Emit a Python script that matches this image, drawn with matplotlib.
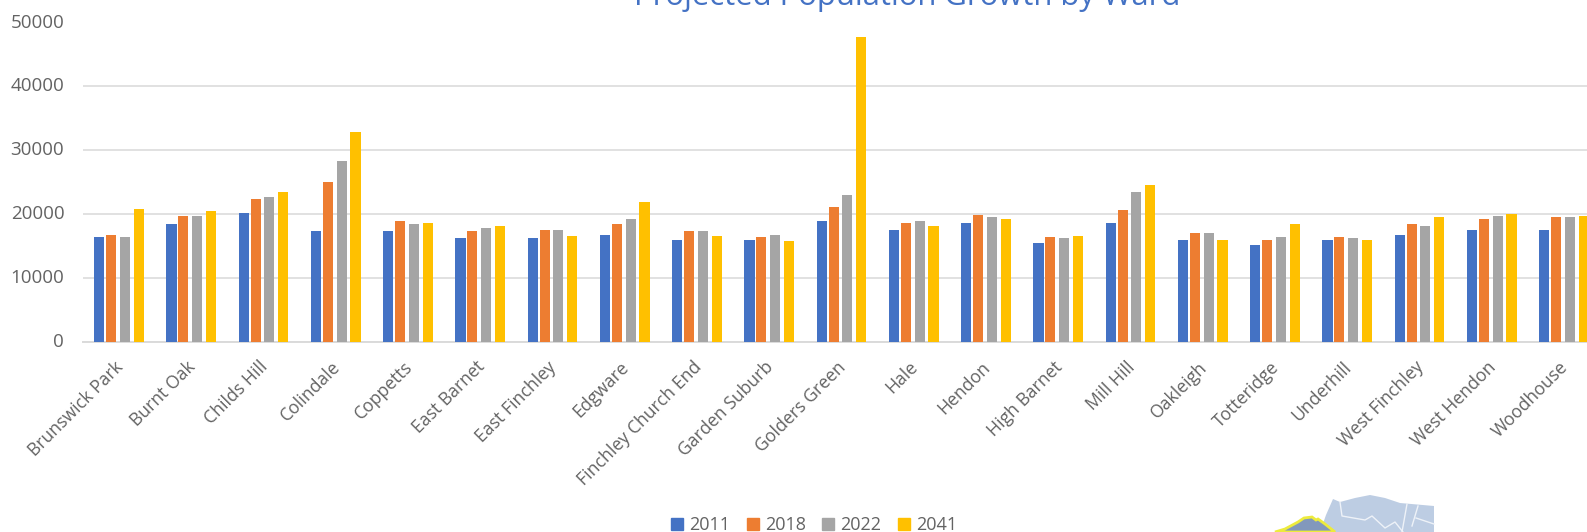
import matplotlib
matplotlib.use("Agg")
import matplotlib.pyplot as plt
from matplotlib.patches import Polygon
from matplotlib.lines import Line2D
from matplotlib.transforms import ScaledTranslation
import numpy as np

plt.rcParams['font.family'] = ['Open Sans', 'DejaVu Sans']

wards = ["Brunswick Park", "Burnt Oak", "Childs Hill", "Colindale", "Coppetts", "East Barnet",
         "East Finchley", "Edgware", "Finchley Church End", "Garden Suburb", "Golders Green",
         "Hale", "Hendon", "High Barnet", "Mill Hill", "Oakleigh", "Totteridge", "Underhill",
         "West Finchley", "West Hendon", "Woodhouse"]
y2011 = [16500, 18400, 20200, 17300, 17300, 16300, 16300, 16800, 16000, 16000, 18900,
         17600, 18700, 15500, 18700, 16000, 15200, 16000, 16800, 17500, 17500]
y2018 = [16700, 19700, 22400, 25100, 18900, 17400, 17600, 18400, 17400, 16500, 21100,
         18700, 19800, 16500, 20600, 17100, 16000, 16500, 18400, 19200, 19500]
y2022 = [16500, 19700, 22700, 28300, 18400, 17900, 17600, 19200, 17400, 16800, 23000,
         18900, 19500, 16300, 23500, 17100, 16500, 16200, 18100, 19700, 19500]
y2041 = [20800, 20500, 23500, 32900, 18700, 18200, 16600, 21900, 16600, 15800, 47800,
         18200, 19200, 16600, 24600, 16000, 18400, 16000, 19500, 20100, 19700]
series = {"2011": y2011, "2018": y2018, "2022": y2022, "2041": y2041}
colors = ["#4472C4", "#ED7D31", "#A5A5A5", "#FFC000"]
title = "Projected Population Growth by Ward"

W, H = 1587, 532
fig = plt.figure(figsize=(W / 100, H / 100), dpi=100, facecolor="white")
left, pitch = 83, 72.25
ax = fig.add_axes([left / W, 1 - 342 / H, 21 * pitch / W, (342 - 22.5) / H])

x = np.arange(len(wards))
offsets = [-0.275, -0.11, 0.08, 0.272]
for (name, vals), off, c in zip(series.items(), offsets, colors):
    ax.bar(x + off, vals, width=0.14, color=c, label=name, zorder=3)

ax.set_xlim(-0.5, 20.5)
ax.set_ylim(0, 50000)
ax.set_yticks(range(0, 50001, 10000))
ax.grid(axis="y", color="#E1E1E1", lw=1.4, zorder=0)
ax.set_axisbelow(True)
for s in ["top", "left", "right"]:
    ax.spines[s].set_visible(False)
ax.spines["bottom"].set_color("#DADADA")
ax.spines["bottom"].set_linewidth(1.4)
ax.tick_params(axis="both", length=0)
ax.tick_params(axis="y", labelsize=13.5, labelcolor="#636363", pad=13.5)
ax.set_xticks(x)
ax.set_xticklabels(wards, rotation=45, ha="right", rotation_mode="anchor",
                   fontsize=12.7, color="#636363")
ax.tick_params(axis="x", pad=11.5)
shift = ScaledTranslation(-5 / 100, 0, fig.dpi_scale_trans)
for lab in ax.get_xticklabels():
    lab.set_transform(lab.get_transform() + shift)
lift = ScaledTranslation(0, 2 / 100, fig.dpi_scale_trans)
for lab in ax.get_yticklabels():
    lab.set_transform(lab.get_transform() + lift)

fig.text(907 / W, 1 - 5 / H, title, ha="center", va="baseline", fontsize=22.3, color="#4472C4")

handles = [Line2D([], [], marker="s", ls="", color=c, ms=8.4) for c in colors]
fig.legend(handles, list(series), loc="center", bbox_to_anchor=(814 / W, 1 - 525 / H), ncols=4,
           frameon=False, fontsize=13, labelcolor="#636363", handletextpad=0.32,
           columnspacing=0.9, borderpad=0, handlelength=0.7)

def px(points):
    return [(a / W, 1 - b / H) for a, b in points]

# map fragment at the bottom edge
fig.add_artist(Polygon(px([(1320, 532), (1326, 515), (1333, 499), (1340, 502), (1355, 498), (1370, 495),
                           (1385, 498), (1400, 503), (1434, 506), (1434, 532)]),
                       closed=True, fc="#BDCDE3", ec="none", transform=fig.transFigure))
fig.add_artist(Polygon(px([(1275, 532), (1285, 529), (1298, 522), (1304, 518), (1312, 517), (1316, 520),
                           (1318, 519), (1325, 524), (1335, 532)]),
                       closed=True, fc="#8298BC", ec="#EDEB3C", lw=2, transform=fig.transFigure))
for seg in ([(1340, 502), (1342, 516), (1365, 520), (1372, 516), (1385, 528), (1395, 522), (1403, 532)],
            [(1407, 504), (1402, 532)], [(1418, 506), (1412, 526)], [(1416, 518), (1434, 524)]):
    fig.add_artist(Line2D(*zip(*px(seg)), color="#EEF2F8", lw=1, transform=fig.transFigure))

fig.savefig("out.png", dpi=100, facecolor="white")
